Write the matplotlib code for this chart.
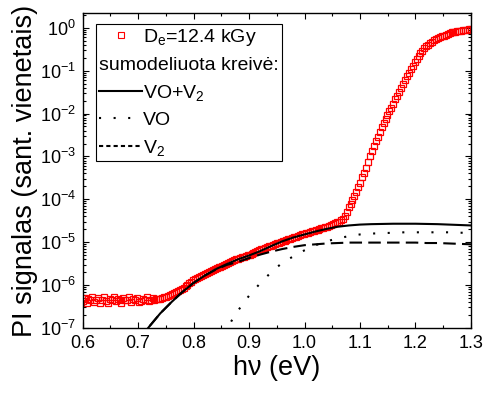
import numpy as np
import matplotlib.pyplot as plt
from matplotlib.lines import Line2D
from matplotlib.ticker import MultipleLocator, LogLocator, NullFormatter

plt.rcParams['font.family'] = ['Liberation Sans', 'DejaVu Sans']
plt.rcParams['mathtext.fontset'] = 'custom'
plt.rcParams['mathtext.rm'] = 'Liberation Sans'
plt.rcParams['mathtext.it'] = 'Liberation Sans:italic'
plt.rcParams['mathtext.default'] = 'regular'
plt.rcParams['axes.unicode_minus'] = False

# PI signalas, De = 12.4 kGy: log10 reiksmes kas 0.0035 eV nuo 0.600 iki 1.300
E_start, E_step = 0.6, 0.0035
pi_log = [
    -6.38, -6.30, -6.42, -6.33, -6.36, -6.27, -6.40, -6.34, -6.31, -6.43,
    -6.35, -6.29, -6.37, -6.41, -6.32, -6.36, -6.28, -6.38, -6.33, -6.35,
    -6.42, -6.31, -6.36, -6.34, -6.29, -6.39, -6.33, -6.35, -6.30, -6.40,
    -6.37, -6.32, -6.34, -6.28, -6.38, -6.35, -6.31, -6.36, -6.33,
    -6.33, -6.32, -6.30, -6.29, -6.28, -6.26, -6.23, -6.21, -6.19, -6.17,
    -6.14, -6.12, -6.09, -6.06, -6.02, -5.99, -5.96, -5.93, -5.89, -5.87,
    -5.84, -5.82, -5.79, -5.77, -5.75, -5.73, -5.70, -5.68, -5.66, -5.63,
    -5.61, -5.59, -5.57, -5.55, -5.53, -5.51, -5.48, -5.46, -5.44, -5.42,
    -5.40, -5.39, -5.37, -5.35, -5.34, -5.32, -5.30, -5.29, -5.27, -5.25,
    -5.23, -5.21, -5.19, -5.17, -5.16, -5.14, -5.12, -5.10, -5.09, -5.07,
    -5.05, -5.03, -5.02, -5.00, -4.98, -4.97, -4.95, -4.93, -4.92, -4.90,
    -4.88, -4.87, -4.85, -4.84, -4.82, -4.80, -4.79, -4.78, -4.76, -4.75,
    -4.73, -4.72, -4.71, -4.69, -4.68, -4.66, -4.65, -4.64, -4.62, -4.60,
    -4.58, -4.56, -4.54, -4.52, -4.49, -4.45, -4.38, -4.29, -4.19, -4.11,
    -4.02, -3.93, -3.83, -3.72, -3.61, -3.49, -3.38, -3.26, -3.13, -3.00,
    -2.88, -2.76, -2.65, -2.54, -2.43, -2.32, -2.22, -2.13, -2.04, -1.95,
    -1.86, -1.77, -1.67, -1.58, -1.49, -1.40, -1.31, -1.22, -1.13, -1.05,
    -0.96, -0.88, -0.80, -0.73, -0.66, -0.59, -0.53, -0.48, -0.43, -0.40,
    -0.36, -0.32, -0.29, -0.27, -0.24, -0.22, -0.20, -0.18, -0.16, -0.14,
    -0.13, -0.11, -0.10, -0.09, -0.08, -0.07, -0.065, -0.06, -0.05, -0.045,
    -0.04, -0.03,
]
E_pi = np.round(E_start + E_step * np.arange(len(pi_log)), 4)

# sumodeliuotos kreives (log10)
E_mod = [0.70, 0.72, 0.74, 0.76, 0.78, 0.80, 0.82, 0.84, 0.86, 0.88,
         0.90, 0.92, 0.94, 0.96, 0.98, 1.00, 1.02, 1.04, 1.06, 1.08,
         1.10, 1.12, 1.14, 1.16, 1.18, 1.20, 1.22, 1.24, 1.26, 1.28, 1.30]
sum_log = [-7.30, -6.97, -6.66, -6.40, -6.16, -5.95, -5.78, -5.63, -5.51, -5.40,
           -5.31, -5.21, -5.09, -4.98, -4.89, -4.82, -4.75, -4.69, -4.64, -4.61,
           -4.59, -4.58, -4.575, -4.57, -4.57, -4.57, -4.575, -4.58, -4.59, -4.60, -4.61]
v2_log = [-7.30, -6.97, -6.66, -6.40, -6.16, -5.95, -5.78, -5.64, -5.53, -5.46,
          -5.37, -5.29, -5.22, -5.16, -5.11, -5.07, -5.05, -5.03, -5.02, -5.01,
          -5.01, -5.01, -5.01, -5.01, -5.01, -5.01, -5.02, -5.02, -5.03, -5.04, -5.05]
E_vo = [0.855, 0.86, 0.87, 0.88, 0.89, 0.90, 0.92, 0.94, 0.96, 0.98, 1.00,
        1.02, 1.04, 1.06, 1.08, 1.10, 1.12, 1.14, 1.16, 1.18, 1.20,
        1.22, 1.24, 1.26, 1.28, 1.30]
vo_log = [-7.15, -7.03, -6.80, -6.60, -6.42, -6.25, -5.96, -5.70, -5.48, -5.33, -5.19,
          -5.07, -4.98, -4.91, -4.86, -4.82, -4.80, -4.79, -4.78, -4.77, -4.77,
          -4.77, -4.77, -4.77, -4.78, -4.78]

fig = plt.figure(figsize=(4.86, 3.97), dpi=100)
ax = fig.add_axes([0.17, 0.174, 0.799, 0.793])

ax.plot(E_pi, 10.0 ** np.array(pi_log), 's', mfc='none', mec='red', ms=4.6, mew=0.9)
ax.plot(E_mod, 10.0 ** np.array(sum_log), '-', color='black', lw=1.5)
ax.plot(E_vo, 10.0 ** np.array(vo_log), color='black', lw=1.5, ls=(0, (1, 6)))
ax.plot(E_mod, 10.0 ** np.array(v2_log), color='black', lw=1.5, ls=(0, (6, 3)))

ax.set_yscale('log')
ax.set_xlim(0.6, 1.3)
ax.set_ylim(1e-7, 2.2)
ax.xaxis.set_major_locator(MultipleLocator(0.1))
ax.xaxis.set_minor_locator(MultipleLocator(0.05))
ax.yaxis.set_major_locator(LogLocator(base=10, numticks=20))
ax.yaxis.set_minor_locator(LogLocator(base=10, subs=np.arange(2, 10), numticks=20))
ax.yaxis.set_minor_formatter(NullFormatter())
ax.xaxis.set_major_formatter(plt.FuncFormatter(lambda v, p: '%.1f' % v))
ax.tick_params(which='both', direction='in', top=True, right=True, width=0.8)
ax.tick_params(which='major', length=4, labelsize=13, pad=5)
ax.tick_params(which='minor', length=2.5)
for s in ax.spines.values():
    s.set_linewidth(1.0)

ax.set_xlabel('h\u03bd (eV)', fontsize=19.5, labelpad=2)
ax.set_ylabel('PI signalas (sant. vienetais)', fontsize=19.5, labelpad=1)

# legenda
handles = [
    Line2D([], [], ls='none', marker='s', mfc='none', mec='red', ms=4, mew=0.8),
    Line2D([], [], ls='none'),
    Line2D([], [], color='black', lw=1.5),
    Line2D([], [], color='black', lw=1.5, ls=(0, (1, 6))),
    Line2D([], [], color='black', lw=1.5, ls=(0, (2, 1.5))),
]
labels = ['D$_{e}$=12.4 kGy', 'sumodeliuota kreivė:', 'VO+V$_{2}$', 'VO', 'V$_{2}$']
leg = ax.legend(handles, labels, loc='upper left', bbox_to_anchor=(0.035, 0.965),
                borderaxespad=0, fontsize=14, frameon=True, fancybox=False,
                edgecolor='black', framealpha=1, handlelength=2.2,
                handletextpad=0.05, labelspacing=0.45, borderpad=0.15, numpoints=1)
leg.get_frame().set_linewidth(0.8)
row = leg._legend_handle_box.get_children()[0].get_children()[1]
row._children = [row.get_children()[1]]

fig.savefig('out.png', dpi=100)
